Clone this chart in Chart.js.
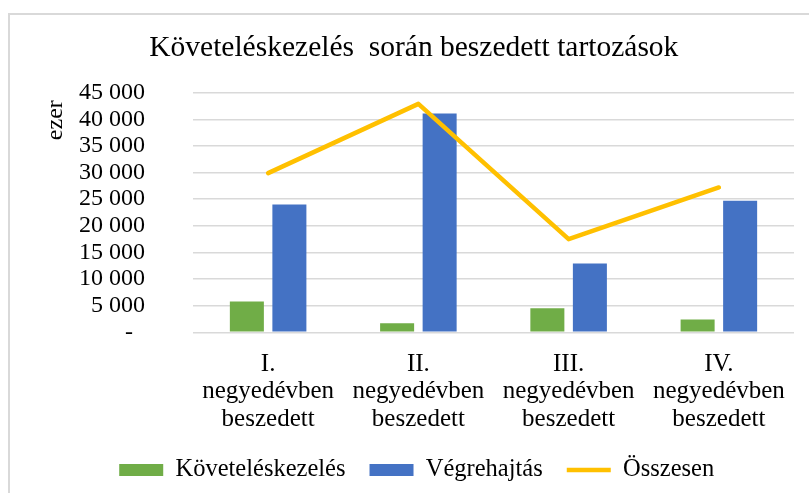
<!DOCTYPE html>
<html><head><meta charset="utf-8">
<script src="https://cdn.jsdelivr.net/npm/chart.js@4"></script>
<style>
html,body{margin:0;padding:0;background:#fff;}
#wrap{position:relative;width:809px;height:493px;overflow:hidden;}
#frame{position:absolute;left:8px;top:13px;width:820px;height:500px;border-left:2px solid #d9d9d9;border-top:2px solid #d9d9d9;}
canvas{position:absolute;left:0;top:0;}
</style></head><body>
<div id="wrap"><div id="frame"></div><canvas id="c" width="809" height="493"></canvas></div>
<script>
const categories = [
  ['I.', 'negyedévben', 'beszedett'],
  ['II.', 'negyedévben', 'beszedett'],
  ['III.', 'negyedévben', 'beszedett'],
  ['IV.', 'negyedévben', 'beszedett']
];
const seriesNames = ['Követeléskezelés', 'Végrehajtás', 'Összesen'];
const kovetelesValues = [5800, 1700, 4500, 2400];
const vegrehajtasValues = [24000, 41100, 12900, 24700];
const osszesenValues = [29900, 42900, 17500, 27200];
const yTickLabels = ['-', '5 000', '10 000', '15 000', '20 000', '25 000', '30 000', '35 000', '40 000', '45 000'];
const chartTitle = 'Követeléskezelés  során beszedett tartozások';
const yAxisTitle = 'ezer';

const FAM = "'Liberation Serif', 'Times New Roman', serif";

const tweaks = {
  id: 'tweaks',
  afterLayout(chart) {
    if (chart.titleBlock) { chart.titleBlock.left = 0; chart.titleBlock.right = 827.6; }
    if (chart.legend) { chart.legend.left = 0; chart.legend.right = 833.4; }
  },
  afterDraw(chart) {
    const ctx = chart.ctx;
    const y = chart.scales.y;
    ctx.save();
    ctx.font = '24px ' + FAM;
    ctx.fillStyle = '#000';
    ctx.translate(61.5, y.top + 7.5);
    ctx.rotate(-Math.PI / 2);
    ctx.textAlign = 'right';
    ctx.textBaseline = 'alphabetic';
    ctx.fillText(yAxisTitle, 0, 0);
    ctx.restore();
  }
};

new Chart(document.getElementById('c'), {
  data: {
    labels: categories,
    datasets: [
      { type: 'bar', label: seriesNames[0], data: kovetelesValues, backgroundColor: '#70AD47', borderWidth: 0, order: 1, pointStyle: 'rect' },
      { type: 'bar', label: seriesNames[1], data: vegrehajtasValues, backgroundColor: '#4472C4', borderWidth: 0, order: 1, pointStyle: 'rect' },
      { type: 'line', label: seriesNames[2], data: osszesenValues, borderColor: '#FFC000', backgroundColor: '#FFC000',
        borderWidth: 4.5, pointRadius: 0, pointHoverRadius: 0, tension: 0, borderCapStyle: 'round', borderJoinStyle: 'round',
        order: 0, pointStyle: 'line', fill: false }
    ]
  },
  plugins: [tweaks],
  options: {
    responsive: false,
    animation: false,
    events: [],
    layout: { padding: { left: 0, right: 15, top: 0, bottom: 0.7 } },
    datasets: { bar: { categoryPercentage: 0.566, barPercentage: 0.8 } },
    plugins: {
      title: {
        display: true, text: chartTitle, color: '#000',
        font: { family: FAM, size: 29.5, weight: 'normal', lineHeight: 1.2 },
        padding: { top: 30.6, bottom: 26.7 }
      },
      legend: {
        position: 'bottom',
        labels: {
          usePointStyle: true, pointStyleWidth: 44, boxHeight: 12, padding: 24, color: '#000',
          font: { family: FAM, size: 24.5 },
          sort: (a, b) => a.datasetIndex - b.datasetIndex,
          generateLabels: (chart) => {
            const items = Chart.defaults.plugins.legend.labels.generateLabels(chart);
            items.forEach(it => {
              const ds = chart.data.datasets[it.datasetIndex];
              it.pointStyle = ds.type === 'line' ? 'line' : 'rect';
              if (ds.type === 'line') { it.lineWidth = 4.5; it.strokeStyle = '#FFC000'; }
              else { it.lineWidth = 0; }
            });
            return items;
          }
        }
      },
      tooltip: { enabled: false }
    },
    scales: {
      x: {
        grid: { display: false, drawTicks: false },
        border: { display: false },
        ticks: { padding: 18, color: '#000', font: { family: FAM, size: 25, lineHeight: 1.1 }, maxRotation: 0, autoSkip: false },
        afterFit: (s) => { s.height = 101.5; }
      },
      y: {
        min: 0, max: 45000,
        grid: { color: '#d9d9d9', lineWidth: 1.5, drawTicks: false },
        border: { display: false },
        ticks: {
          stepSize: 5000, autoSkip: false, padding: 48, color: '#000',
          font: { family: FAM, size: 24, lineHeight: 1 },
          callback: (v, i) => i === 0 ? yTickLabels[0] + '  ' : yTickLabels[i]
        },
        afterFit: (s) => { s.width = 193; }
      }
    }
  }
});
</script>
</body></html>
